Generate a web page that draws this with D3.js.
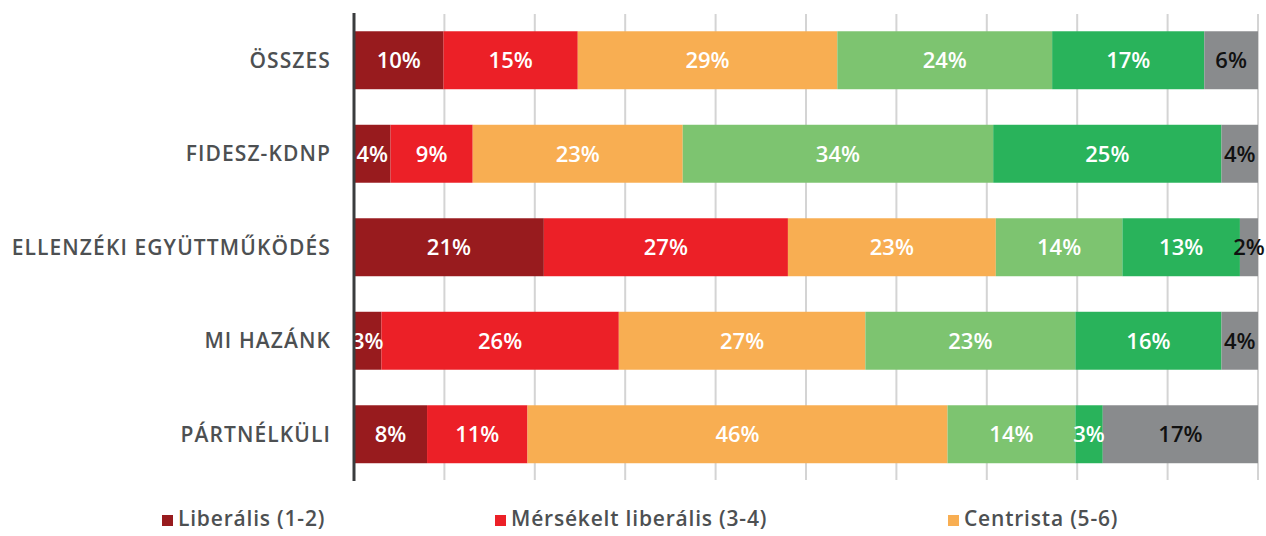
<!DOCTYPE html>
<html>
<head>
<meta charset="utf-8">
<script src="https://cdn.jsdelivr.net/npm/d3@7"></script>
<style>
  body { margin: 0; background: #fff; }
  text { font-family: "Open Sans", "Noto Sans", sans-serif; }
</style>
</head>
<body>
<div id="chart"></div>
<script>
// categories (top to bottom)
var categories = ["ÖSSZES", "FIDESZ-KDNP", "ELLENZÉKI EGYÜTTMŰKÖDÉS", "MI HAZÁNK", "PÁRTNÉLKÜLI"];
// series
var seriesNames = ["Liberális (1-2)", "Mérsékelt liberális (3-4)", "Centrista (5-6)",
                   "Mérsékelt konzervatív (7-8)", "Konzervatív (9-10)", "Nem tudja"];
var liberalis    = [10, 4, 21, 3, 8];
var mersLiberal  = [15, 9, 27, 26, 11];
var centrista    = [29, 23, 23, 27, 46];
var mersKonz     = [24, 34, 14, 23, 14];
var konzervativ  = [17, 25, 13, 16, 3];
var nemTudja     = [6, 4, 2, 4, 17];
var seriesValues = [liberalis, mersLiberal, centrista, mersKonz, konzervativ, nemTudja];
var colors = ["#981b1e", "#ec2027", "#f8ae52", "#7dc470", "#29b35b", "#898b8d"];
var labelColors = ["#fff", "#fff", "#fff", "#fff", "#fff", "#111"];
var xTicks = [0, 10, 20, 30, 40, 50, 60, 70, 80, 90, 100];
// only the first legend row is visible in the picture
var legendShown = seriesNames.slice(0, 3);

var W = 1266, H = 536;
var margin = { left: 354, right: 8, top: 13.5, bottom: 55 };

var rows = categories.map(function(c, i) {
    var r = { cat: c };
    seriesNames.forEach(function(s, j) { r[s] = seriesValues[j][i]; });
    return r;
});

var stack = d3.stack().keys(seriesNames).offset(d3.stackOffsetExpand);
var layers = stack(rows);

var x = d3.scaleLinear().domain([0, 1]).range([margin.left, 1258]);
var y = d3.scaleBand().domain(categories).range([margin.top, 481]).paddingInner(0.38).paddingOuter(0.19);

var svg = d3.select("#chart").append("svg")
    .attr("width", W)
    .attr("height", H);

// grid
svg.append("g")
    .selectAll("line")
    .data(xTicks.slice(1))
    .enter().append("line")
    .attr("x1", function(d) { return x(d / 100); })
    .attr("x2", function(d) { return x(d / 100); })
    .attr("y1", 14)
    .attr("y2", 480)
    .attr("stroke", "#d4d4d4")
    .attr("stroke-width", 2);

// bars
var layer = svg.append("g")
    .selectAll("g")
    .data(layers)
    .enter().append("g")
    .attr("fill", function(d, i) { return colors[i]; });

layer.selectAll("rect")
    .data(function(d) { return d; })
    .enter().append("rect")
    .attr("x", function(d) { return x(d[0]); })
    .attr("y", function(d) { return y(d.data.cat); })
    .attr("width", function(d) { return x(d[1]) - x(d[0]); })
    .attr("height", y.bandwidth());

// value labels
layers.forEach(function(l, i) {
    svg.append("g")
        .selectAll("text")
        .data(l)
        .enter().append("text")
        .attr("x", function(d) { return (x(d[0]) + x(d[1])) / 2; })
        .attr("y", function(d) { return y(d.data.cat) + y.bandwidth() / 2; })
        .attr("dy", "0.36em")
        .attr("text-anchor", "middle")
        .attr("font-size", 22)
        .attr("font-weight", 600)
        .attr("fill", labelColors[i])
        .text(function(d) { return d.data[l.key] + "%"; });
});

// axis line
svg.append("line")
    .attr("x1", margin.left).attr("x2", margin.left)
    .attr("y1", 13).attr("y2", 481)
    .attr("stroke", "#3a3c3e")
    .attr("stroke-width", 3);

// category labels
svg.append("g")
    .selectAll("text")
    .data(categories)
    .enter().append("text")
    .attr("x", 331)
    .attr("y", function(d) { return y(d) + y.bandwidth() / 2; })
    .attr("dy", "0.36em")
    .attr("text-anchor", "end")
    .attr("font-size", 21)
    .attr("font-weight", 600)
    .attr("letter-spacing", 1.1)
    .attr("fill", "#4d5052")
    .text(function(d) { return d; });

// legend
var legendX = [162, 495, 948];
var legend = svg.append("g")
    .selectAll("g")
    .data(legendShown)
    .enter().append("g")
    .attr("transform", function(d, i) {
        return "translate(" + legendX[i] + ",526)";
    });

legend.append("rect")
    .attr("x", 0).attr("y", -11)
    .attr("width", 11).attr("height", 11)
    .attr("fill", function(d, i) { return colors[i]; });

legend.append("text")
    .attr("x", 16)
    .attr("y", 0)
    .attr("font-size", 21)
    .attr("font-weight", 600)
    .attr("letter-spacing", 0.8)
    .attr("fill", "#4d5052")
    .text(function(d) { return d; });
</script>
</body>
</html>
